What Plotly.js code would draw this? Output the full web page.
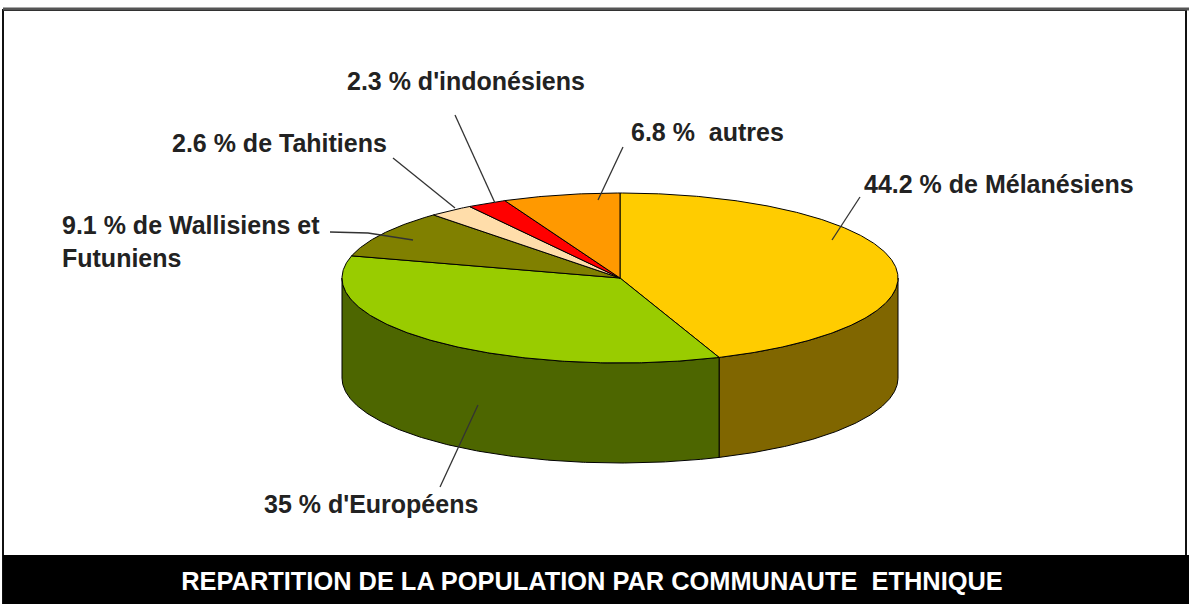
<!DOCTYPE html>
<html><head><meta charset="utf-8">
<script src="https://cdn.plot.ly/plotly-3.0.1.min.js"></script>
<style>html,body{margin:0;padding:0;background:#fff}#chart{width:1189px;height:604px}</style>
</head><body><div id="chart"></div>
<script>
// ---- data ----
const categories = ["Mélanésiens", "Européens", "Wallisiens et Futuniens", "Tahitiens", "Indonésiens", "autres"];
const shares = [44.2, 35, 9.1, 2.6, 2.3, 6.8];
const labelTexts = ["44.2 % de Mélanésiens", "35 % d'Européens", "9.1 % de Wallisiens et<br>Futuniens",
                    "2.6 % de Tahitiens", "2.3 % d'indonésiens", "6.8 %\u00a0 autres"];
const topColors = ["#FFCC00", "#99CC00", "#808000", "#FFDDAA", "#FF0000", "#FF9900"];
const sideColors = ["#806600", "#4D6600", "#404000", "#806E55", "#800000", "#804D00"];
const chartTitle = "REPARTITION DE LA POPULATION PAR COMMUNAUTE\u00a0 ETHNIQUE";

// ---- layout geometry (pixel-like axis units) ----
const W = 1189, H = 604;
const cx = 620, cy = 278, rx = 278, ry = 85, depth = 100;
const labelPos = [[862, 184, 'left'], [262, 504, 'left'], [60, 241, 'left'],
                  [170, 143, 'left'], [345, 81, 'left'], [629, 132, 'left']];
const leaders = [
  "M860,197 L832,240", "M478,405 L440,487", "M330,232 L368,233 L413,240",
  "M393,158 L455,208", "M455,115 L495,203", "M623,147 L598,200"
];

function pt(t, dy) { return [cx + rx * Math.sin(t), cy - ry * Math.cos(t) + (dy || 0)]; }
function arc(a, b, dy) {
  const n = Math.max(2, Math.ceil(Math.abs(b - a) / (Math.PI / 360)));
  const out = [];
  for (let k = 0; k <= n; k++) out.push(pt(a + (b - a) * k / n, dy));
  return out;
}

const total = shares.reduce((s, v) => s + v, 0);
const sideTraces = [], topTraces = [];
let acc = 0;
shares.forEach((v, i) => {
  const t1 = acc / total * 2 * Math.PI;
  acc += v;
  const t2 = acc / total * 2 * Math.PI;
  // visible side wall (front half of the ellipse)
  const a = Math.max(t1, Math.PI / 2), b = Math.min(t2, 3 * Math.PI / 2);
  if (a < b) {
    const pts = arc(a, b, 0).concat(arc(b, a, depth));
    pts.push(pts[0]);
    sideTraces.push({
      type: 'scatter', mode: 'lines', x: pts.map(p => p[0]), y: pts.map(p => p[1]),
      fill: 'toself', fillcolor: sideColors[i], line: {color: '#000', width: 1},
      hoverinfo: 'text', text: categories[i] + ' : ' + v + ' %', showlegend: false
    });
  }
  const tp = [[cx, cy]].concat(arc(t1, t2, 0));
  tp.push([cx, cy]);
  topTraces.push({
    type: 'scatter', mode: 'lines', x: tp.map(p => p[0]), y: tp.map(p => p[1]),
    fill: 'toself', fillcolor: topColors[i], line: {color: '#000', width: 1},
    hoverinfo: 'text', text: categories[i] + ' : ' + v + ' %', showlegend: false
  });
});

const labelFont = {family: 'Liberation Sans, Arial, sans-serif', size: 25, color: '#222', weight: 700};
const annotations = labelTexts.map((t, i) => ({
  x: labelPos[i][0], y: labelPos[i][1], xref: 'x', yref: 'y', text: t,
  xanchor: labelPos[i][2], yanchor: 'middle', align: 'left', showarrow: false, font: labelFont
}));

const shapes = [
  {type: 'rect', xref: 'x', yref: 'y', x0: 3, x1: 1186, y0: 10, y1: 603, line: {color: '#111', width: 2}, fillcolor: 'rgba(0,0,0,0)', layer: 'below'},
  {type: 'line', xref: 'x', yref: 'y', x0: 3, x1: 1189, y0: 9, y1: 9, line: {color: '#555', width: 3}, layer: 'below'},
  {type: 'rect', xref: 'x', yref: 'y', x0: 3, x1: 1189, y0: 555, y1: 604, line: {width: 0}, fillcolor: '#000', layer: 'below'}
].concat(leaders.map(p => ({type: 'path', xref: 'x', yref: 'y', path: p, line: {color: '#333', width: 1.3}, layer: 'above'})));

const layout = {
  width: W, height: H, margin: {l: 0, r: 0, t: 0, b: 0},
  paper_bgcolor: '#fff', plot_bgcolor: 'rgba(0,0,0,0)',
  xaxis: {range: [0, W], visible: false, fixedrange: true},
  yaxis: {range: [H, 0], visible: false, fixedrange: true},
  showlegend: false,
  title: {text: chartTitle, x: 592 / W, xref: 'container', xanchor: 'center',
          y: 1 - 581 / H, yref: 'container', yanchor: 'middle',
          font: {family: 'Liberation Sans, Arial, sans-serif', size: 25.4, color: '#fff', weight: 700}},
  annotations: annotations, shapes: shapes
};

Plotly.newPlot('chart', sideTraces.concat(topTraces), layout, {displayModeBar: false, staticPlot: true});
</script></body></html>
